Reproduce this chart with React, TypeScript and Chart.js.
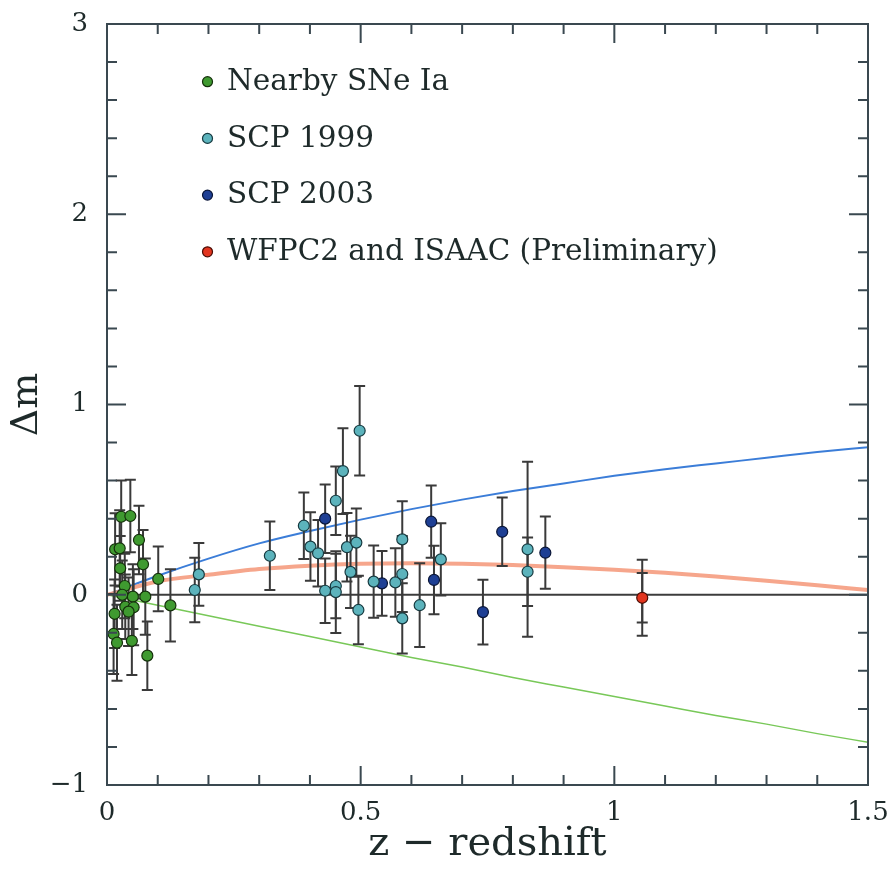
import React, { useEffect, useRef } from 'react';
import { Chart, registerables } from 'chart.js';

Chart.register(...registerables);

// ---------- data ----------
const nearbyZ = [0.028, 0.046, 0.063, 0.016, 0.025, 0.071, 0.026, 0.101, 0.035, 0.030, 0.051, 0.0755, 0.036, 0.0525, 0.0425, 0.125, 0.015, 0.013, 0.0197, 0.049, 0.0795];
const nearbyDm = [0.41, 0.414, 0.288, 0.239, 0.244, 0.16, 0.139, 0.083, 0.046, 0.0, -0.01, -0.01, -0.063, -0.066, -0.089, -0.056, -0.10, -0.206, -0.252, -0.242, -0.32];
const nearbyErr = [0.19, 0.19, 0.18, 0.19, 0.2, 0.18, 0.17, 0.17, 0.17, 0.18, 0.17, 0.2, 0.17, 0.2, 0.18, 0.19, 0.18, 0.21, 0.2, 0.18, 0.18];

const scp99Z = [0.498, 0.465, 0.451, 0.388, 0.401, 0.416, 0.473, 0.4915, 0.582, 0.658, 0.48, 0.43, 0.451, 0.451, 0.5256, 0.5684, 0.582, 0.4955, 0.582, 0.6163, 0.829, 0.829, 0.321, 0.181, 0.173];
const scp99Dm = [0.862, 0.65, 0.494, 0.363, 0.253, 0.218, 0.25, 0.274, 0.291, 0.186, 0.12, 0.021, 0.046, 0.014, 0.069, 0.065, 0.109, -0.08, -0.124, -0.055, 0.239, 0.121, 0.205, 0.107, 0.025];
const scp99Err = [0.235, 0.225, 0.18, 0.175, 0.18, 0.175, 0.18, 0.18, 0.2, 0.19, 0.19, 0.17, 0.17, 0.215, 0.19, 0.18, 0.2, 0.18, 0.185, 0.22, 0.46, 0.18, 0.18, 0.165, 0.17];

const scp03Z = [0.43, 0.639, 0.6445, 0.542, 0.779, 0.864, 0.741];
const scp03Dm = [0.40, 0.384, 0.078, 0.06, 0.331, 0.221, -0.091];
const scp03Err = [0.18, 0.19, 0.18, 0.17, 0.18, 0.19, 0.17];

const hstZ = [1.055];
const hstDm = [-0.016];
const hstErr = [0.2];
const hstErrInner = [0.13];

const curveZ = [0, 0.1, 0.2, 0.3, 0.4, 0.5, 0.6, 0.7, 0.8, 0.9, 1.0, 1.1, 1.2, 1.3, 1.4, 1.5];
const curveAccel = [0, 0.10, 0.19, 0.27, 0.335, 0.395, 0.45, 0.50, 0.545, 0.585, 0.625, 0.66, 0.69, 0.72, 0.75, 0.775];
const curveLambda = [0, 0.07, 0.105, 0.135, 0.153, 0.163, 0.166, 0.163, 0.156, 0.145, 0.131, 0.115, 0.096, 0.074, 0.05, 0.025];
const curveDecel = [0, -0.055, -0.11, -0.165, -0.22, -0.275, -0.33, -0.38, -0.435, -0.485, -0.535, -0.585, -0.635, -0.68, -0.73, -0.775];

const xTickLabels = ['0', '0.5', '1', '1.5'];
const yTickLabels = ['\u22121', '0', '1', '2', '3'];
const legendLabels = ['Nearby SNe Ia', 'SCP 1999', 'SCP 2003', 'WFPC2 and ISAAC (Preliminary)'];

const FONT = "'DejaVu Serif', serif";
const INK = '#3a4850';

const pts = (xs: number[], ys: number[]) => xs.map((x, i) => ({ x, y: ys[i] }));

const framePlugin = {
  id: 'framePlugin',
  beforeDatasetsDraw(chart: any) {
    const { ctx, chartArea: a, scales } = chart;
    const y0 = scales.y.getPixelForValue(0);
    ctx.save();
    ctx.strokeStyle = '#3c3c3c';
    ctx.lineWidth = 2;
    ctx.beginPath();
    ctx.moveTo(a.left, y0);
    ctx.lineTo(a.right, y0);
    ctx.stroke();
    ctx.restore();
  },
  afterDatasetDraw(chart: any, args: any) {
    if (args.index !== 4) return;
    const { ctx, scales } = chart;
    const xs = scales.x, ys = scales.y;
    ctx.save();
    ctx.strokeStyle = '#3a3a3a';
    ctx.lineWidth = 2;
    const cap = 5.5;
    const bar = (px: number, lo: number, hi: number) => {
      ctx.beginPath();
      ctx.moveTo(px, lo); ctx.lineTo(px, hi);
      ctx.moveTo(px - cap, lo); ctx.lineTo(px + cap, lo);
      ctx.moveTo(px - cap, hi); ctx.lineTo(px + cap, hi);
      ctx.stroke();
    };
    chart.data.datasets.forEach((ds: any) => {
      const errs: number[][] = ds.errorSets || [];
      errs.forEach((err) => {
        ds.data.forEach((p: any, i: number) => {
          const px = xs.getPixelForValue(p.x);
          bar(px, ys.getPixelForValue(p.y - err[i]), ys.getPixelForValue(p.y + err[i]));
        });
      });
    });
    ctx.restore();
  },
  afterDraw(chart: any) {
    const { ctx, chartArea: a, scales } = chart;
    const xs = scales.x, ys = scales.y;
    ctx.save();
    ctx.strokeStyle = INK;
    ctx.lineWidth = 2;
    ctx.strokeRect(a.left, a.top, a.right - a.left, a.bottom - a.top);
    ctx.beginPath();
    for (let k = 1; k < 15; k++) {
      const px = xs.getPixelForValue(k / 10);
      const len = k % 5 === 0 ? 19 : 10;
      ctx.moveTo(px, a.bottom); ctx.lineTo(px, a.bottom - len);
      ctx.moveTo(px, a.top); ctx.lineTo(px, a.top + len);
    }
    for (let k = -4; k < 15; k++) {
      const py = ys.getPixelForValue(k / 5);
      const len = k % 5 === 0 ? 19 : 10;
      ctx.moveTo(a.left, py); ctx.lineTo(a.left + len, py);
      ctx.moveTo(a.right, py); ctx.lineTo(a.right - len, py);
    }
    ctx.stroke();

    // legend
    const rowY0 = 81.7, rowStep = 56.7;
    for (let i = 0; i < 4; i++) {
      const ds = chart.data.datasets[i];
      const cy = rowY0 + i * rowStep;
      ctx.beginPath();
      ctx.arc(207.5, cy, 5, 0, Math.PI * 2);
      ctx.fillStyle = ds.backgroundColor;
      ctx.fill();
      ctx.lineWidth = 1.2;
      ctx.strokeStyle = ds.borderColor;
      ctx.stroke();
      ctx.fillStyle = '#1e2a2a';
      ctx.font = `29.5px ${FONT}`;
      ctx.textBaseline = 'alphabetic';
      ctx.textAlign = 'left';
      ctx.fillText(ds.label, 227, cy + 8.3);
    }
    ctx.restore();
  },
};

const fixPad = (s: any) => {
  s.paddingTop = 0;
  s.paddingBottom = 0;
  s.paddingLeft = 0;
  s.paddingRight = 0;
};

export default function App() {
  const ref = useRef<HTMLCanvasElement | null>(null);
  useEffect(() => {
    if (!ref.current) return;
    const marker = (label: string, xs: number[], ys: number[], errSets: number[][], fill: string, border: string) => ({
      label,
      data: pts(xs, ys),
      errorSets: errSets,
      backgroundColor: fill,
      borderColor: border,
      pointRadius: 5.5,
      pointBorderWidth: 1.2,
      showLine: false,
    });
    const curve = (ys: number[], color: string, width: number) => ({
      label: '',
      data: pts(curveZ, ys),
      showLine: true,
      borderColor: color,
      borderWidth: width,
      pointRadius: 0,
      tension: 0.4,
      cubicInterpolationMode: 'monotone',
      fill: false,
    });
    const chart = new Chart(ref.current, {
      type: 'scatter',
      data: {
        datasets: [
          marker(legendLabels[0], nearbyZ, nearbyDm, [nearbyErr], '#3f9a30', '#15300c'),
          marker(legendLabels[1], scp99Z, scp99Dm, [scp99Err], '#5cb3bc', '#173a40'),
          marker(legendLabels[2], scp03Z, scp03Dm, [scp03Err], '#1e3f94', '#0a1638'),
          marker(legendLabels[3], hstZ, hstDm, [hstErr, hstErrInner], '#e2351f', '#4a0d05'),
          curve(curveLambda, 'rgba(245,150,120,0.85)', 4),
          curve(curveAccel, '#3b7dd8', 2),
          curve(curveDecel, '#78c858', 1.5),
        ] as any,
      },
      options: {
        animation: false,
        responsive: false,
        events: [],
        layout: { padding: { left: 0, right: 22, top: 24, bottom: 0 } },
        plugins: { legend: { display: false }, tooltip: { enabled: false } },
        scales: {
          x: {
            type: 'linear',
            min: 0,
            max: 1.5,
            grid: { display: false, drawTicks: false },
            border: { display: false },
            ticks: {
              stepSize: 0.5,
              padding: 13,
              color: '#1e2a2a',
              font: { family: FONT, size: 26 },
              callback: (_v: any, i: number) => xTickLabels[i],
            },
            title: {
              display: true,
              text: 'z \u2212 redshift',
              color: '#1e2a2a',
              font: { family: FONT, size: 40, lineHeight: 1 },
              padding: { top: 0, bottom: 7 },
            },
            afterFit: (s: any) => { s.height = 87; fixPad(s); },
          },
          y: {
            type: 'linear',
            min: -1,
            max: 3,
            grid: { display: false, drawTicks: false },
            border: { display: false },
            ticks: {
              stepSize: 1,
              padding: 19,
              color: '#1e2a2a',
              font: { family: FONT, size: 26 },
              callback: (_v: any, i: number) => yTickLabels[i],
            },
            title: {
              display: true,
              text: '\u0394m',
              color: '#1e2a2a',
              font: { family: FONT, size: 38, lineHeight: 1 },
              padding: { top: 8, bottom: 0 },
            },
            afterFit: (s: any) => { s.width = 107; fixPad(s); },
          },
        },
      } as any,
      plugins: [framePlugin],
    });
    return () => chart.destroy();
  }, []);
  return (
    <div style={{ position: 'fixed', left: 0, top: 0, width: 890, height: 872, background: '#ffffff' }}>
      <canvas ref={ref} width={890} height={872} style={{ display: 'block', width: 890, height: 872 }} />
    </div>
  );
}
